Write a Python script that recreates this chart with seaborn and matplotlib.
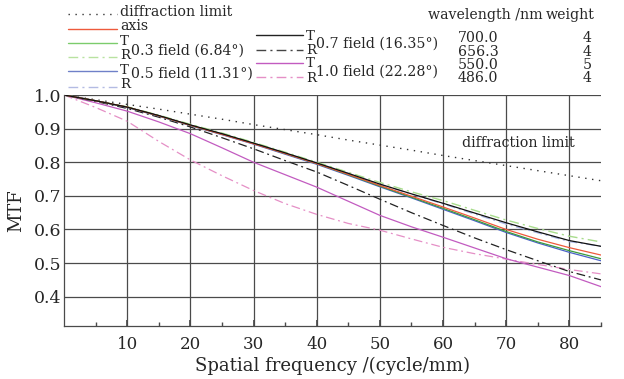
import matplotlib
matplotlib.use("Agg")
import matplotlib.pyplot as plt
import seaborn as sns
from matplotlib.lines import Line2D

# ---------------- data ----------------
freq = [0, 5, 10, 15, 20, 25, 30, 35, 40, 45, 50, 55, 60, 65, 70, 75, 80, 85]
diffraction = [1.0, 0.986, 0.972, 0.958, 0.943, 0.928, 0.912, 0.897, 0.882, 0.866,
               0.851, 0.836, 0.820, 0.805, 0.790, 0.775, 0.760, 0.745]
axis_mtf = [1.0, 0.983, 0.964, 0.938, 0.910, 0.883, 0.855, 0.826, 0.796, 0.764,
            0.731, 0.699, 0.667, 0.634, 0.600, 0.571, 0.546, 0.524]
t03 = [1.0, 0.983, 0.964, 0.938, 0.910, 0.884, 0.856, 0.826, 0.796, 0.763,
       0.729, 0.696, 0.663, 0.629, 0.594, 0.563, 0.537, 0.513]
r03 = [1.0, 0.983, 0.965, 0.940, 0.913, 0.887, 0.859, 0.830, 0.800, 0.770,
       0.740, 0.712, 0.686, 0.657, 0.628, 0.603, 0.580, 0.563]
t05 = [1.0, 0.983, 0.963, 0.937, 0.909, 0.882, 0.854, 0.824, 0.794, 0.761,
       0.727, 0.694, 0.660, 0.626, 0.591, 0.560, 0.532, 0.507]
r05 = [1.0, 0.983, 0.964, 0.939, 0.911, 0.885, 0.857, 0.828, 0.798, 0.767,
       0.735, 0.705, 0.676, 0.646, 0.616, 0.590, 0.564, 0.550]
t07 = [1.0, 0.983, 0.964, 0.939, 0.911, 0.885, 0.857, 0.828, 0.798, 0.767,
       0.735, 0.706, 0.678, 0.649, 0.620, 0.593, 0.567, 0.550]
r07 = [1.0, 0.981, 0.960, 0.934, 0.905, 0.873, 0.840, 0.805, 0.771, 0.731,
       0.690, 0.650, 0.612, 0.575, 0.540, 0.507, 0.475, 0.450]
t10 = [1.0, 0.977, 0.952, 0.920, 0.885, 0.843, 0.800, 0.763, 0.726, 0.684,
       0.642, 0.608, 0.577, 0.545, 0.513, 0.488, 0.463, 0.430]
r10 = [1.0, 0.963, 0.922, 0.862, 0.807, 0.760, 0.716, 0.677, 0.645, 0.618,
       0.598, 0.572, 0.547, 0.528, 0.512, 0.496, 0.481, 0.468]

xticks = [10, 20, 30, 40, 50, 60, 70, 80]
yticks = [0.4, 0.5, 0.6, 0.7, 0.8, 0.9, 1.0]
wavelengths = ["700.0", "656.3", "550.0", "486.0"]
weights = ["4", "4", "5", "4"]

# ---------------- style ----------------
sns.set_theme(style="white")
plt.rcParams["font.family"] = ["DejaVu Serif"]

DD = (0, (7, 3, 1.5, 3))
GRID = "#4a4a4a"
series = [
    (diffraction, "#333333", (0, (1, 4)), 1.0),
    (r10, "#e58fc6", DD, 0.9),
    (t10, "#c25bc0", "-", 0.9),
    (r07, "#222222", DD, 0.9),
    (r05, "#a9b4e4", DD, 0.9),
    (r03, "#a8dc8c", DD, 1.0),
    (t05, "#4a62c8", "-", 0.9),
    (t03, "#3c9c3c", "-", 0.9),
    (axis_mtf, "#ee5a3c", "-", 0.9),
    (t07, "#111111", "-", 0.9),
]

W, H = 624, 379
fig = plt.figure(figsize=(W / 100, H / 100), dpi=100, facecolor="white")
ax = fig.add_axes([64 / W, 1 - 326 / H, 537 / W, 231 / H])
ax.set_facecolor("white")

for vals, col, ls, lw in series:
    sns.lineplot(x=freq, y=vals, ax=ax, color=col, linestyle=ls, linewidth=lw)

ax.set_xlim(0, 85)
ax.set_ylim(0.313, 1.0)
ax.set_xticks(xticks)
ax.set_xticks([5, 15, 25, 35, 45, 55, 65, 75, 85], minor=True)
ax.set_yticks(yticks)
ax.set_yticklabels([f"{v:.1f}" for v in yticks])
ax.grid(True, which="major", color=GRID, linewidth=0.9)
ax.tick_params(axis="x", which="major", direction="in", length=4, color=GRID,
               labelsize=12, pad=7, bottom=True)
ax.tick_params(axis="x", which="minor", direction="in", length=3, color=GRID,
               bottom=True)
ax.tick_params(axis="y", direction="in", length=0, labelsize=12.5, pad=2)
for s in ["top", "right"]:
    ax.spines[s].set_visible(False)
for s in ["left", "bottom"]:
    ax.spines[s].set_color(GRID)
    ax.spines[s].set_linewidth(0.9)

ax.set_xlabel("Spatial frequency /(cycle/mm)", fontsize=13, labelpad=3)
ax.set_ylabel("MTF", fontsize=13, labelpad=6)
ax.text(63, 0.857, "diffraction limit", fontsize=10.3, va="center", ha="left")

# ---------------- legend ----------------
def fy(py):
    return 1 - py / H

def fx(px):
    return px / W

fs = 10.2
fsl = 9.6
# column 1 lines
leg1 = [(14, "#333333", (0, (1, 4))), (29, "#ee5a3c", "-"), (43, "#7ccc6c", "-"),
        (57, "#b8e2a0", DD), (71, "#6f80c8", "-"), (87, "#b3bbe3", DD)]
for py, col, ls in leg1:
    fig.add_artist(Line2D([fx(68), fx(117)], [fy(py), fy(py)], color=col,
                          linestyle=ls, linewidth=1.0))
fig.text(fx(120), fy(12.5), "diffraction limit", fontsize=fs, va="center")
fig.text(fx(120), fy(26.5), "axis", fontsize=fs, va="center")
fig.text(fx(120), fy(41.5), "T", fontsize=fsl, va="center")
fig.text(fx(120), fy(55.5), "R", fontsize=fsl, va="center")
fig.text(fx(131), fy(51), "0.3 field (6.84°)", fontsize=fs, va="center")
fig.text(fx(120), fy(70), "T", fontsize=fsl, va="center")
fig.text(fx(120), fy(85), "R", fontsize=fsl, va="center")
fig.text(fx(131), fy(74), "0.5 field (11.31°)", fontsize=fs, va="center")

# column 2 lines
leg2 = [(35, "#222222", "-"), (50, "#444444", DD), (63, "#c25bc0", "-"),
        (77, "#e58fc6", DD)]
for py, col, ls in leg2:
    fig.add_artist(Line2D([fx(256), fx(303)], [fy(py), fy(py)], color=col,
                          linestyle=ls, linewidth=1.0))
fig.text(fx(306), fy(36), "T", fontsize=fsl, va="center")
fig.text(fx(306), fy(50), "R", fontsize=fsl, va="center")
fig.text(fx(316), fy(44), "0.7 field (16.35°)", fontsize=fs, va="center")
fig.text(fx(306), fy(63.5), "T", fontsize=fsl, va="center")
fig.text(fx(306), fy(78), "R", fontsize=fsl, va="center")
fig.text(fx(316), fy(72), "1.0 field (22.28°)", fontsize=fs, va="center")

# wavelength table
fig.text(fx(428), fy(15), "wavelength /nm", fontsize=fs, va="center")
fig.text(fx(546), fy(15), "weight", fontsize=fs, va="center")
for i, (wl, wt) in enumerate(zip(wavelengths, weights)):
    py = 38 + i * 13.5
    fig.text(fx(458), fy(py), wl, fontsize=fs, va="center")
    fig.text(fx(587), fy(py), wt, fontsize=fs, va="center", ha="center")

fig.savefig("out.png", dpi=100, facecolor="white")
